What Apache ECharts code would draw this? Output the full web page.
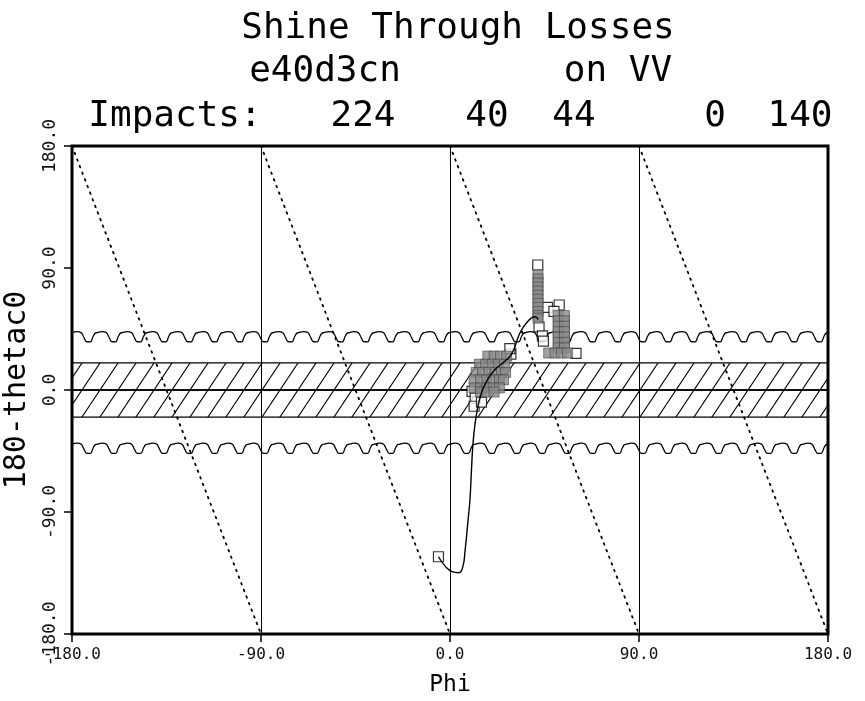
<!DOCTYPE html>
<html>
<head>
<meta charset="utf-8">
<script src="https://cdn.jsdelivr.net/npm/echarts@6/dist/echarts.min.js"></script>
<style>
  html, body { margin: 0; padding: 0; background: #fff; }
  #chart { width: 865px; height: 701px; }
</style>
</head>
<body>
<div id="chart"></div>
<script>
// ---- header text ----
const titleText = 'Shine Through Losses';
const runName = 'e40d3cn';
const surfaceName = 'on VV';
const impactsLabel = 'Impacts:';
const impactCounts = [224, 40, 44, 0, 140];

// ---- axes ----
const xTicks = [-180, -90, 0, 90, 180];
const yTicks = [-180, -90, 0, 90, 180];
const xName = 'Phi';
const yName = '180-thetac0';

// ---- reference geometry (degrees) ----
const bandEdges = [20, 0, -20];
const diagonalSegments = [
  [[-180, 180], [-90, -180]],
  [[-90, 180], [0, -180]],
  [[0, 180], [90, -180]],
  [[90, 180], [180, -180]]
];
// one period of the scalloped edge: [phi offset, theta offset]
const wavePeriod = 12;
const waveProfile = [[0, 3.0], [2.2, 3.8], [4.4, 3.0], [5.8, -1.0], [7.0, -3.7], [8.8, -3.8], [10.0, 0.0], [11.0, 2.6]];
const waveCenters = [39.3, -43];

// ---- particle track and impacts ----
const trajectory = [
  [-5.5, -123], [-2, -130.5], [1, -134], [4, -134.8], [6, -131], [7.2, -118],
  [8.6, -96], [9.5, -81], [10.3, -56.5], [11.1, -37], [12.7, -17], [15, -2],
  [18, 8], [22, 16], [26, 21], [29.5, 27], [33.3, 42], [36.7, 50], [40.5, 54], [42, 52]
];
const openHits = [
  [-5.5, -123], [41.8, 92.2],
  [10.5, -1], [12, -6], [11.5, -12], [15, -9],
  [29, 26.5], [28.5, 30.5],
  [42.4, 46.5], [44, 40], [44.5, 36],
  [46.4, 61], [52, 62.7], [49.5, 58],
  [60, 27]
];
const denseHits = [
  [18, 25], [21, 25], [24, 25], [27, 25],
  [14, 19], [17, 19], [20, 19], [23, 19], [26, 19],
  [12.5, 13], [15.5, 13], [18.5, 13], [21.5, 13], [24.5, 13], [26.5, 13],
  [11.5, 7.5], [14.5, 7.5], [17.5, 7.5], [20.5, 7.5], [23.5, 7.5], [25.5, 7.5],
  [11.5, 1.5], [14.5, 1.5], [17.5, 1.5], [20.5, 1.5], [23.5, 1.5],
  [14.5, -1.5], [17.5, -1.5], [21, -1.5],
  [41.9, 85], [41.9, 82], [41.9, 79], [41.9, 76], [41.9, 73], [41.9, 70],
  [41.9, 67], [41.9, 64], [41.9, 61], [41.9, 58], [41.9, 55], [41.9, 53],
  [51.5, 55], [54.5, 55], [51.5, 51], [54.5, 51], [51.5, 47], [54.5, 47],
  [51.5, 43], [54.5, 43], [51.5, 39], [54.5, 39], [51.5, 35], [54.5, 35],
  [51.5, 31], [54.5, 31],
  [47, 27.3], [50, 27.3], [53, 27.3], [56, 27.3]
];

const MONO = '"DejaVu Sans Mono", "Liberation Mono", monospace';

// scalloped edge: the single measured period laid end to end across phi
function scallop(center) {
  const pts = [];
  for (let start = -180; start < 180; start += wavePeriod) {
    for (const [dx, dy] of waveProfile) {
      const x = start + dx;
      if (x <= 180) pts.push([x, center + dy]);
    }
  }
  pts.push([180, center + waveProfile[0][1]]);
  return pts;
}

// diagonal hatch tile for the band fill
function hatchTile() {
  const w = 18, h = 27;
  const c = document.createElement('canvas');
  c.width = w; c.height = h;
  const g = c.getContext('2d');
  g.strokeStyle = '#000';
  g.lineWidth = 1.1;
  g.beginPath();
  for (const o of [-w, 0, w]) { g.moveTo(o, h); g.lineTo(o + w, 0); }
  g.stroke();
  return c;
}

const chart = echarts.init(document.getElementById('chart'), null, { renderer: 'canvas' });

const bandAreas = [];
for (let i = 0; i < bandEdges.length - 1; i++) {
  bandAreas.push([{ yAxis: bandEdges[i] }, { yAxis: bandEdges[i + 1] }]);
}

const headerY = [29, 72, 117];
const countCenters = [363, 487, 574, 715, 800];
const headerFont = '36px ' + MONO;

// header text is drawn with a white outline over the fill so the strokes stay fine
function headerText(x, y, text) {
  return {
    type: 'text', x: x, y: y,
    style: { text: text, font: headerFont, fill: '#000', stroke: '#fff', lineWidth: 1.5, align: 'center', verticalAlign: 'middle' }
  };
}

const graphic = [
  headerText(458, headerY[0], titleText),
  headerText(325, headerY[1], runName),
  headerText(618, headerY[1], surfaceName),
  headerText(175, headerY[2], impactsLabel)
];
impactCounts.forEach((n, i) => graphic.push(headerText(countCenters[i], headerY[2], String(n))));

const option = {
  animation: false,
  backgroundColor: '#fff',
  graphic: graphic,
  grid: {
    left: 72, right: 37, top: 146, bottom: 67,
    outerBoundsMode: 'none', containLabel: false,
    show: true, borderColor: '#000', borderWidth: 3, backgroundColor: 'transparent'
  },
  xAxis: {
    type: 'value', min: xTicks[0], max: xTicks[xTicks.length - 1], interval: 90,
    name: xName, nameLocation: 'middle', nameGap: 40,
    nameTextStyle: { fontFamily: MONO, fontSize: 23, color: '#000', textBorderColor: '#fff', textBorderWidth: 0.8 },
    axisLine: { show: false, onZero: false },
    axisTick: { show: true, length: 8, lineStyle: { color: '#000', width: 1.5 } },
    axisLabel: { formatter: v => v.toFixed(1), fontFamily: MONO, fontSize: 16, color: '#111', margin: 13 },
    splitLine: { show: true, lineStyle: { color: '#000', width: 1 } }
  },
  yAxis: {
    type: 'value', min: yTicks[0], max: yTicks[yTicks.length - 1], interval: 90,
    name: yName, nameLocation: 'middle', nameGap: 37, nameRotate: 90,
    nameTextStyle: { fontFamily: MONO, fontSize: 30, color: '#000', textBorderColor: '#fff', textBorderWidth: 1.2 },
    axisLine: { show: false, onZero: false },
    axisTick: { show: true, length: 8, lineStyle: { color: '#000', width: 1.5 } },
    axisLabel: { formatter: v => v.toFixed(1), rotate: 90, fontFamily: MONO, fontSize: 18, color: '#111', margin: 13 },
    splitLine: { show: false }
  },
  series: [
    {
      name: 'upper edge', type: 'line', data: scallop(waveCenters[0]), smooth: 0.35,
      symbol: 'none', lineStyle: { color: '#000', width: 1.3 }, z: 3,
      markArea: {
        silent: true,
        itemStyle: { color: { image: hatchTile(), repeat: 'repeat' }, borderColor: '#000', borderWidth: 1.3 },
        data: bandAreas
      }
    },
    {
      name: 'lower edge', type: 'line', data: scallop(waveCenters[1]), smooth: 0.35,
      symbol: 'none', lineStyle: { color: '#000', width: 1.3 }, z: 3
    },
    {
      name: 'diagonals', type: 'lines', coordinateSystem: 'cartesian2d',
      data: diagonalSegments.map(seg => ({ coords: seg })),
      lineStyle: { color: '#000', width: 1.8, type: [1.6, 5.5], cap: 'round', opacity: 1 }, z: 4
    },
    {
      name: 'open hits', type: 'scatter', data: openHits, symbol: 'rect', symbolSize: 10,
      itemStyle: { color: '#fff', borderColor: '#000', borderWidth: 1.2 }, z: 5
    },
    {
      name: 'dense hits', type: 'scatter', data: denseHits, symbol: 'rect', symbolSize: 10,
      itemStyle: { color: '#8a8a8a', borderColor: '#3a3a3a', borderWidth: 0.7 }, z: 6
    },
    {
      name: 'track', type: 'line', data: trajectory, smooth: 0.5,
      symbol: 'none', lineStyle: { color: '#000', width: 1.4 }, z: 7
    }
  ]
};

chart.setOption(option);
</script>
</body>
</html>
